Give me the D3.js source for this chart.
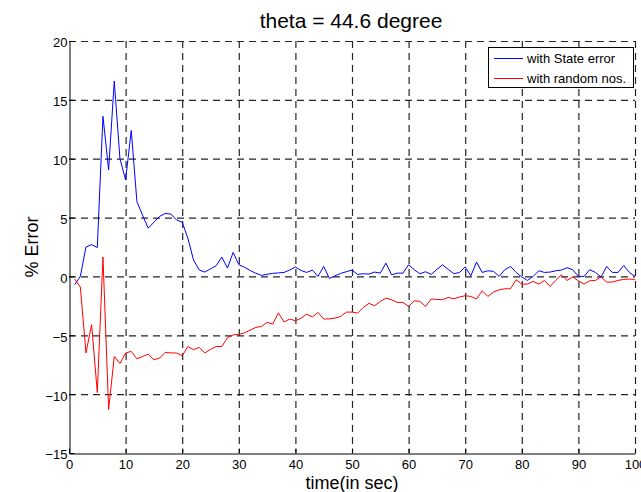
<!DOCTYPE html>
<html><head><meta charset="utf-8">
<script src="https://cdn.jsdelivr.net/npm/d3@7/dist/d3.min.js"></script>
<style>html,body{margin:0;padding:0;background:#fff}svg{display:block}text{font-family:"Liberation Sans",Arial,sans-serif}</style>
</head><body><svg id="c" width="641" height="492"></svg>
<script>
const title = "theta = 44.6 degree";
const xLabel = "time(in sec)";
const yLabel = "% Error";
const seriesNames = ["with State error", "with random nos."];
const xTicks = [0,10,20,30,40,50,60,70,80,90,100];
const yTicks = [-15,-10,-5,0,5,10,15,20];
const time = d3.range(1, 101);
const stateError = [
 -0.7,0.0,2.5,2.7,2.45,13.6,9.05,16.6,10.0,8.2,
 12.4,6.35,5.2,4.1,4.6,5.1,5.35,5.3,4.8,4.6,
 3.25,1.4,0.55,0.37,0.64,0.91,1.65,0.71,2.04,1.0,
 0.78,0.51,0.27,0.09,0.18,0.26,0.3,0.34,0.55,0.8,
 0.5,0.34,0.54,0.0,0.85,-0.17,0.05,0.26,0.4,0.54,
 0.17,0.23,0.2,0.37,0.28,1.13,0.14,0.28,0.28,0.99,
 0.57,0.23,0.4,0.17,0.6,0.99,0.6,0.23,0.34,0.8,
 0.06,1.22,0.34,0.48,0.43,0.0,0.57,0.85,0.34,-0.05,
 -0.34,0.0,0.48,0.34,0.37,0.48,0.54,0.74,0.57,0.0,
 0.0,0.57,0.34,-0.05,0.85,0.34,0.34,0.93,0.34,0.0];
const randomNos = [
 -0.22,-0.9,-6.5,-4.1,-9.86,1.65,-11.3,-6.8,-7.4,-6.5,
 -6.37,-7.0,-6.8,-6.6,-7.08,-6.94,-6.45,-6.5,-6.5,-6.74,
 -5.95,-6.23,-6.03,-6.5,-6.2,-5.95,-5.95,-5.2,-4.97,-4.92,
 -4.8,-4.56,-4.33,-4.25,-3.9,-4.05,-3.1,-3.87,-3.62,-3.76,
 -3.55,-3.2,-3.45,-3.06,-3.62,-3.6,-3.54,-3.4,-3.03,-3.03,
 -3.11,-2.63,-2.29,-2.49,-2.12,-1.84,-1.98,-2.21,-2.21,-2.55,
 -2.07,-2.12,-2.55,-1.92,-1.95,-1.98,-1.78,-1.9,-1.75,-1.64,
 -1.7,-1.92,-1.22,-1.7,-1.33,-1.13,-1.05,-1.05,-0.28,-0.65,
 -0.65,-0.42,-0.65,-0.34,-0.85,-0.34,0.14,-0.34,-0.05,-0.37,
 -0.65,-0.37,-0.34,-0.05,-0.48,-0.48,-0.34,-0.25,-0.23,-0.25];
const colors = ["#0000ff", "#ff0000"];

const svg = d3.select("#c");
const L = 69, R = 635, T = 41, B = 453;
const x = d3.scaleLinear().domain([0,100]).range([L,R]);
const y = d3.scaleLinear().domain([-15,20]).range([B,T]);

// grid
const g = svg.append("g");
g.selectAll(".vg").data(xTicks.filter(d=>d>0)).enter().append("line")
 .attr("x1",d=>x(d)+0.5).attr("x2",d=>x(d)+0.5).attr("y1",T).attr("y2",B)
 .attr("stroke","#262626").attr("stroke-width",1.2).attr("stroke-dasharray","7,5");
g.selectAll(".hg").data(yTicks.filter(d=>d>-15)).enter().append("line")
 .attr("y1",d=>y(d)+0.5).attr("y2",d=>y(d)+0.5).attr("x1",L).attr("x2",R)
 .attr("stroke","#262626").attr("stroke-width",1.2).attr("stroke-dasharray","7,5");

// axes
const xa = svg.append("g").attr("transform",`translate(0,${B+0.5})`)
 .call(d3.axisBottom(x).tickValues(xTicks).tickSizeInner(-5).tickSizeOuter(0).tickPadding(6).tickFormat(d3.format("d")));
const ya = svg.append("g").attr("transform",`translate(${L+0.5},0)`)
 .call(d3.axisLeft(y).tickValues(yTicks).tickSizeInner(-5).tickSizeOuter(0).tickPadding(2).tickFormat(d3.format("d")));
[xa,ya].forEach(a=>{
 a.selectAll("text").attr("font-size",13).attr("fill","#000").attr("font-family","Liberation Sans, Arial, sans-serif");
 a.selectAll("line,path").attr("stroke","#000");
});
ya.selectAll("text").attr("dy","0.45em");

// lines
const line = d3.line().x((d,i)=>x(time[i])).y(d=>y(d));
[stateError, randomNos].forEach((s,k)=>{
 svg.append("path").datum(s).attr("d",line).attr("fill","none")
  .attr("stroke",colors[k]).attr("stroke-width",1);
});

// legend
const lg = svg.append("g");
lg.append("rect").attr("x",488.5).attr("y",47.5).attr("width",145).attr("height",40)
 .attr("fill","#fff").attr("stroke","#000").attr("stroke-width",1);
seriesNames.forEach((n,k)=>{
 const yy = 58 + k*20;
 lg.append("line").attr("x1",494).attr("x2",523).attr("y1",yy+0.5).attr("y2",yy+0.5)
  .attr("stroke",colors[k]).attr("stroke-width",1);
 lg.append("text").attr("x",527).attr("y",yy+4.5).attr("font-size",13).text(n);
});

// titles
svg.append("text").attr("x",351).attr("y",28).attr("text-anchor","middle").attr("font-size",21).text(title);
svg.append("text").attr("x",352).attr("y",489).attr("text-anchor","middle").attr("font-size",18).text(xLabel);
svg.append("text").attr("transform","translate(38,247) rotate(-90)").attr("text-anchor","middle").attr("font-size",18).text(yLabel);
</script></body></html>
